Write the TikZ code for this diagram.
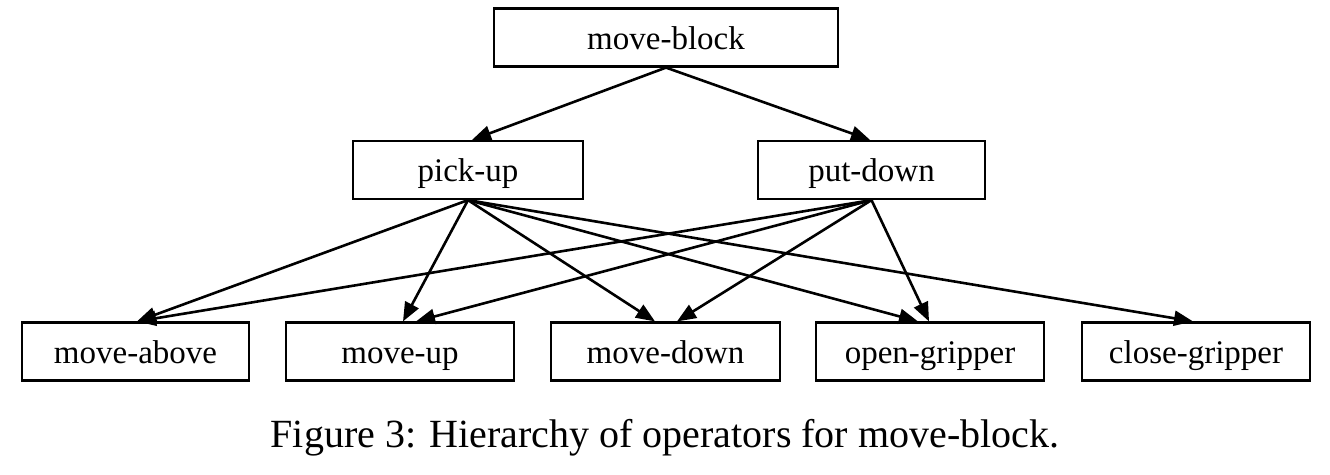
\documentclass[tikz,border=0pt]{standalone}
\usepackage{fontspec}
\setmainfont{Liberation Serif}
\usetikzlibrary{arrows.meta,calc}
\begin{document}
\begin{tikzpicture}[x=1pt,y=-1pt,
  opbox/.style={draw,line width=2.2pt,inner sep=0pt,minimum height=58pt,
    font=\fontsize{33}{40}\selectfont,text height=31pt,text depth=7.5pt},
  edge/.style={line width=2.6pt,-{Triangle[length=19pt,width=15pt]}}]
\useasboundingbox (0,0) rectangle (1330,474);
\node[opbox,minimum width=344pt] (mb) at (666,37.5) {move-block};
\node[opbox,minimum width=230pt] (pu) at (468,170) {pick-up};
\node[opbox,minimum width=227pt] (pd) at (871.5,170) {put-down};
\node[opbox,minimum width=227pt] (ma) at (135.5,351.5) {move-above};
\node[opbox,minimum width=228pt] (mu) at (400,351.5) {move-up};
\node[opbox,minimum width=229pt] (md) at (665.5,351.5) {move-down};
\node[opbox,minimum width=228pt] (og) at (930,351.5) {open-gripper};
\node[opbox,minimum width=228pt] (cg) at (1196,351.5) {close-gripper};
\node[font=\fontsize{40}{48}\selectfont,anchor=base,inner sep=0pt] (cap) at (665,447) {Figure 3: Hierarchy of operators for move-block.};
\draw[edge] (mb.south) -- ($(pu.north)+(4,0)$);
\draw[edge] (mb.south) -- ($(pd.north)+(-1.5,0)$);
\draw[edge] (pu.south) -- ($(ma.north)+(1.5,0)$);
\draw[edge] (pu.south) -- ($(mu.north)+(3,0)$);
\draw[edge] (pu.south) -- ($(md.north)+(-10.5,0)$);
\draw[edge] (pu.south) -- ($(og.north)+(-12,0)$);
\draw[edge] (pu.south) -- ($(cg.north)+(-3,0)$);
\draw[edge] (pd.south) -- ($(ma.north)+(1.5,0)$);
\draw[edge] (pd.south) -- ($(mu.north)+(16,0)$);
\draw[edge] (pd.south) -- ($(md.north)+(11.5,0)$);
\draw[edge] (pd.south) -- ($(og.north)+(-1,0)$);
\end{tikzpicture}
\end{document}
